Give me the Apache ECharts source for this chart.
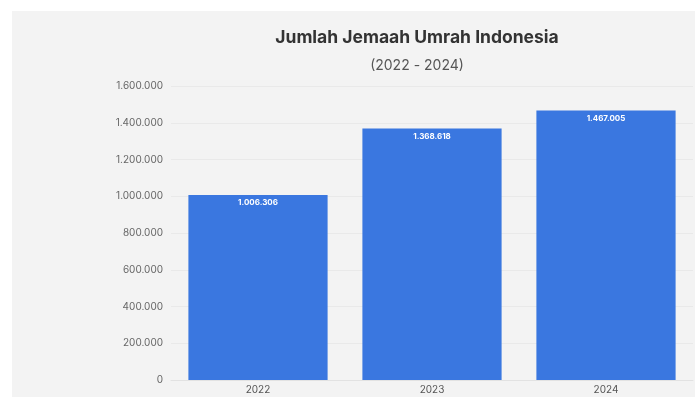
<!DOCTYPE html>
<html>
<head>
<meta charset="utf-8">
<script src="https://cdn.jsdelivr.net/npm/echarts@6/dist/echarts.min.js"></script>
<style>
html,body{margin:0;padding:0;background:#ffffff;}
#chart{width:695px;height:397px;}
</style>
</head>
<body>
<div id="chart"></div>
<script>
var titleText = 'Jumlah Jemaah Umrah Indonesia';
var subtitleText = '(2022 - 2024)';
var categories = ['2022', '2023', '2024'];
var values = [1006306, 1368618, 1467005];

function fmt(v) {
  return String(Math.round(v)).replace(/\B(?=(\d{3})+(?!\d))/g, '.');
}

var chart = echarts.init(document.getElementById('chart'), null, {renderer: 'canvas'});
chart.setOption({
  backgroundColor: '#ffffff',
  animation: false,
  textStyle: {fontFamily: 'Inter, "Noto Sans", sans-serif'},
  graphic: [{
    type: 'rect', z: -10, silent: true,
    shape: {x: 12, y: 11, width: 683, height: 386},
    style: {fill: '#f3f3f3'}
  }],
  title: [{
    text: titleText,
    left: 412, top: 24, textAlign: 'center',
    textStyle: {fontSize: 17.5, fontWeight: 'bold', color: '#333333', fontFamily: 'Inter, sans-serif'}
  }, {
    text: subtitleText,
    left: 412, top: 54, textAlign: 'center',
    textStyle: {fontSize: 14, fontWeight: 'normal', color: '#555555', fontFamily: 'Inter, sans-serif'}
  }],
  grid: {left: 171, right: 2, top: 86, bottom: 17, containLabel: false},
  xAxis: {
    type: 'category',
    data: categories,
    axisLine: {show: true, lineStyle: {color: '#e2e2e2'}},
    axisTick: {show: false},
    axisLabel: {color: '#555555', fontSize: 10, margin: 5}
  },
  yAxis: {
    type: 'value',
    min: 0, max: 1600000, interval: 200000,
    axisLine: {show: false},
    axisTick: {show: false},
    splitLine: {lineStyle: {color: '#e9e9e9'}},
    axisLabel: {color: '#666666', fontSize: 10, margin: 8, formatter: fmt}
  },
  series: [{
    type: 'bar',
    data: values,
    barWidth: '80%',
    itemStyle: {color: '#3a77e0'},
    label: {
      show: true, position: 'insideTop', distance: 4,
      color: '#ffffff', fontSize: 8, fontWeight: 'bold',
      formatter: function (p) { return fmt(p.value); }
    }
  }]
});
</script>
</body>
</html>
